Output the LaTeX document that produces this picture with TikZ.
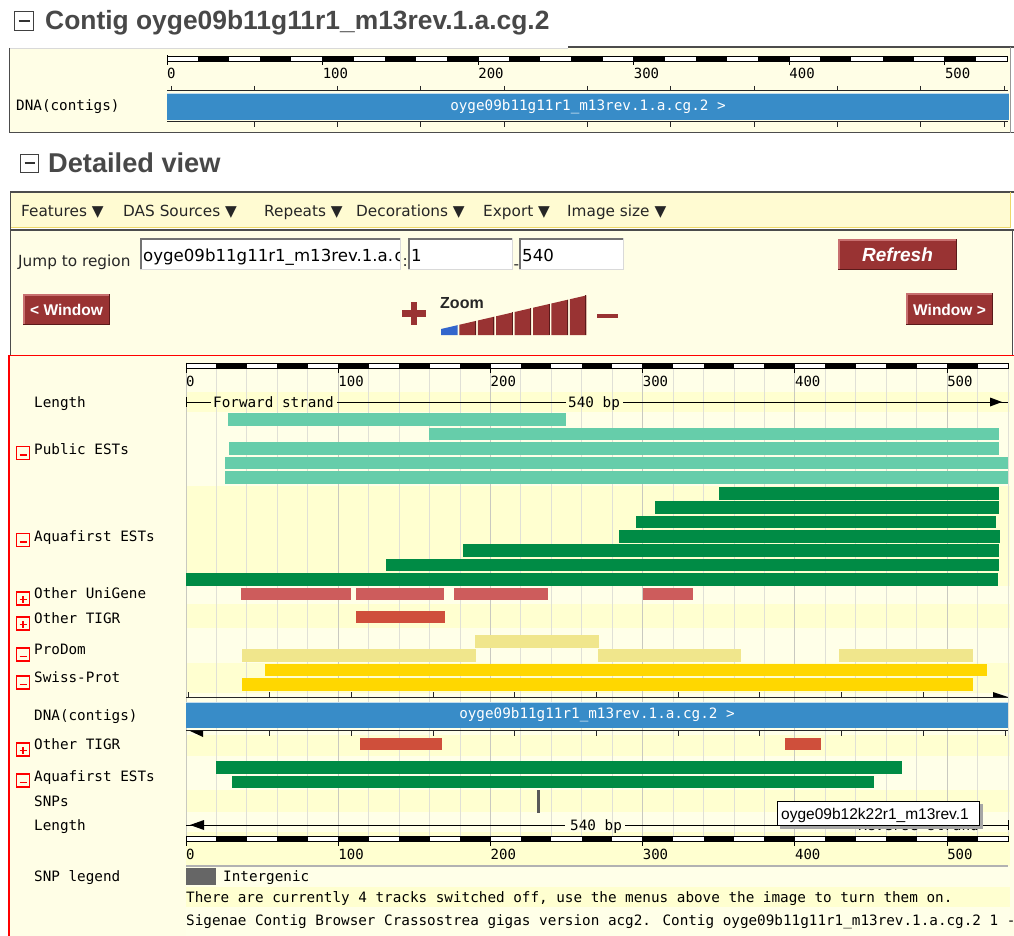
\documentclass[tikz,border=0pt]{standalone}
\usepackage{fontspec}
\setmainfont{Liberation Sans}
\newfontfamily\monof{DejaVu Sans Mono}
\newfontfamily\dvf{DejaVu Sans}
\definecolor{cream}{HTML}{FFFEE6}
\definecolor{bandA}{HTML}{FFFFD0}
\definecolor{bandB}{HTML}{FFFFE8}
\definecolor{gridc}{HTML}{E0E0D6}
\definecolor{gridd}{HTML}{C9C9C0}
\definecolor{hdr}{HTML}{484848}
\definecolor{contig}{HTML}{388CC8}
\definecolor{pubest}{HTML}{66CDAA}
\definecolor{aqua}{HTML}{008B45}
\definecolor{unig}{HTML}{CD5C5C}
\definecolor{tigr}{HTML}{CF4F3B}
\definecolor{prodom}{HTML}{F0E68C}
\definecolor{swiss}{HTML}{FFD700}
\definecolor{btn}{HTML}{993333}
\definecolor{btnlight}{HTML}{C87070}
\definecolor{btndark}{HTML}{5A1A1A}
\definecolor{zblue}{HTML}{3366CC}
\definecolor{toolbar}{HTML}{FFFBD2}
\definecolor{tbline}{HTML}{EED868}
\definecolor{snpc}{HTML}{666666}
\tikzset{
  mono/.style={font=\monof\fontsize{14.3}{16}\selectfont, inner sep=0pt, anchor=base west},
  rlab/.style={font=\monof\fontsize{14}{16}\selectfont, inner sep=0pt, anchor=base west},
  dnatext/.style={font=\monof\fontsize{14.3}{16}\selectfont, inner sep=0pt, text=white},
  ui/.style={font=\dvf\fontsize{15.3}{18}\selectfont, inner sep=0pt, anchor=base west, text=black!85},
  fieldtext/.style={font=\dvf\fontsize{16.6}{18}\selectfont, inner sep=0pt, anchor=base west, text=black},
  hdrtext/.style={font=\bfseries\fontsize{26.4}{30}\selectfont, text=hdr, inner sep=0pt, anchor=base west},
  btntext/.style={font=\bfseries\fontsize{15.5}{18}\selectfont, text=white, inner sep=0pt},
  tiptext/.style={font=\fontsize{15.5}{18}\selectfont, inner sep=0pt, anchor=base west},
}
\newcommand{\myruler}[3]{%
  \foreach \i in {0,...,26}{%
    \pgfmathsetmacro{\xa}{#1+\i*20*#3}%
    \pgfmathsetmacro{\xb}{#1+(\i+1)*20*#3}%
    \pgfmathtruncatemacro{\odd}{mod(\i,2)}%
    \ifnum\odd=1 \fill[black] (\xa,#2) rectangle (\xb,#2+4.5);\else\fill[white] (\xa,#2) rectangle (\xb,#2+4.5);\fi
  }
  \draw[black,line width=0.9] (#1,#2) rectangle (#1+540*#3,#2+4.5);
  \draw[black,line width=1] (#1,#2-1) -- (#1,#2+9);
  \foreach \k in {1,...,5}{\draw[black,line width=1] (#1+100*\k*#3,#2) -- (#1+100*\k*#3,#2+9);}
}
\newcommand{\minusicon}[2]{%
  \draw[red, line width=1.2] (#1,#2) rectangle (#1+13,#2+13);
  \draw[red, line width=1.7] (#1+3,#2+8.5) -- (#1+10,#2+8.5);
}
\newcommand{\plusicon}[2]{%
  \draw[red, line width=1.2] (#1,#2) rectangle (#1+13,#2+13);
  \draw[red, line width=1.7] (#1+3,#2+7.5) -- (#1+10,#2+7.5);
  \draw[red, line width=1.7] (#1+6.5,#2+4) -- (#1+6.5,#2+11);
}
\newcommand{\mybutton}[4]{%
  \fill[btn] (#1,#2) rectangle (#3,#4);
  \draw[btnlight, line width=1.5] (#1+0.75,#4) -- (#1+0.75,#2+0.75) -- (#3,#2+0.75);
  \draw[btndark, line width=1.5] (#1,#4-0.75) -- (#3-0.75,#4-0.75) -- (#3-0.75,#2);
}
\newcommand{\tbar}[4]{\fill[#1] (#2,#3) rectangle (#4,#3+12.7);}
\newcommand{\myfield}[4]{%
  \fill[white] (#1,#2) rectangle (#3,#4);
  \draw[black!55, line width=1.5] (#1+0.75,#4) -- (#1+0.75,#2+0.75) -- (#3,#2+0.75);
  \draw[black!15, line width=1] (#1,#4-0.5) -- (#3-0.5,#4-0.5) -- (#3-0.5,#2);
}
\begin{document}
\begin{tikzpicture}[x=1pt,y=-1pt]
\useasboundingbox (0,0) rectangle (1014,936);
\fill[white] (0,0) rectangle (1014,936);
\begin{scope}
\clip (0,0) rectangle (1014,936);

% ---------- Header 1 ----------
\draw[black!75, line width=1.3] (14.5,11.5) rectangle (33.5,30.5);
\draw[black!80, line width=2] (18.5,21) -- (29.5,21);
\node[hdrtext] (h1) at (45,29.5) {Contig oyge09b11g11r1\_m13rev.1.a.cg.2};

% ---------- Top box ----------
\fill[cream] (9,48) rectangle (1010,133);
\draw[black!15] (9,48.5) -- (568,48.5);
\draw[black!70, line width=1.3] (568,47) -- (1014,47);
\draw[black!70, line width=1] (9.5,48) -- (9.5,133) -- (1014,133);
\draw[black!40, line width=0.8] (1010,47) -- (1010,133);
\myruler{167}{56.5}{1.5556}
\foreach \k/\l in {0/0,1/100,2/200,3/300,4/400,5/500}{
  \node[rlab] (tr\k) at ({167+155.56*\k},78.5) {\l};
}
\draw[black!85, line width=1] (167,91) -- (1008,91);
\foreach \k in {0,...,10}{\draw[black!85, line width=1] ({171+83.3*\k},86) -- ({171+83.3*\k},91);}
\fill[contig] (167,93) rectangle (1009,120);
\draw[white!70!contig, line width=0.6] (167,93.3) -- (1009,93.3);
\node[dnatext] (c1) at (588,106.5) {oyge09b11g11r1\_m13rev.1.a.cg.2 >};
\draw[black!85, line width=1] (167,122) -- (1008,122);
\foreach \k in {1,...,10}{\draw[black!85, line width=1] ({171+83.3*\k},122) -- ({171+83.3*\k},127);}
\node[mono] (tdna) at (16,111) {DNA(contigs)};

% ---------- Header 2 ----------
\draw[black!75, line width=1.3] (20.5,154.5) rectangle (38.5,172.5);
\draw[black!80, line width=2] (24.5,163.5) -- (34.5,163.5);
\node[hdrtext, font=\bfseries\fontsize{27.2}{30}\selectfont] (h2) at (48,173) {Detailed view};

% ---------- Toolbar ----------
\fill[toolbar] (10,192) rectangle (1011,228);
\fill[cream] (10,230) rectangle (1012,355);
\draw[black!70, line width=1.3] (10,192) -- (1014,192);
\draw[tbline, line width=1.5] (10,227.5) -- (1011,227.5);
\draw[tbline, line width=1.2] (1010.5,192.5) -- (1010.5,228);
\draw[black!70, line width=1.2] (10,230) -- (1014,230);
\draw[black!70, line width=1.3] (10.5,192) -- (10.5,355);
\draw[black!70, line width=1] (1012,230) -- (1012,355);
\node[ui] (m1) at (21,216.5) {Features ▼};
\node[ui] (m2) at (123,216.5) {DAS Sources ▼};
\node[ui] (m3) at (264,216.5) {Repeats ▼};
\node[ui] (m4) at (356,216.5) {Decorations ▼};
\node[ui] (m5) at (483,216.5) {Export ▼};
\node[ui] (m6) at (567,216.5) {Image size ▼};

\node[ui] (jump) at (18,266) {Jump to region};
\myfield{140}{238}{401}{270}
\node[fieldtext] (f1) at (143,261.5) {oyge09b11g11r1\_m13rev.1.a.};
\begin{scope}
  \clip (390,239) rectangle (399,269);
  \node[fieldtext] (f1b) at (394.5,261.5) {c};
\end{scope}
\node[ui] (colon) at (402.5,266) {:};
\myfield{408}{238}{513}{270}
\node[fieldtext] (f2) at (411,261.5) {1};
\node[ui] (dash) at (513.5,269) {-};
\myfield{519}{238}{624}{270}
\node[fieldtext] (f3) at (522,261.5) {540};

\mybutton{838}{239}{957}{270}
\node[btntext, font=\bfseries\itshape\fontsize{19}{20}\selectfont] (refresh) at (897.5,255) {Refresh};
\mybutton{23}{294}{110}{325}
\node[btntext] (wl) at (66.5,310) {< Window};
\mybutton{906}{293}{993}{325}
\node[btntext] (wr) at (949.5,309.5) {Window >};

% zoom control
\fill[btn] (401.5,310) rectangle (426,316.5);
\fill[btn] (410.5,301.5) rectangle (417,324.5);
\node[font=\bfseries\fontsize{16}{18}\selectfont, inner sep=0pt, anchor=base west, text=black!85] (zoomt) at (440,308) {Zoom};
\foreach \i in {0,...,7}{
  \pgfmathsetmacro{\xl}{441+\i*18.4}
  \pgfmathsetmacro{\xr}{\xl+16.6}
  \pgfmathsetmacro{\yl}{329-(\xl-441)*0.231}
  \pgfmathsetmacro{\yr}{329-(\xr-441)*0.231}
  \ifnum\i=0
    \fill[zblue] (\xl,335) -- (\xl,\yl) -- (\xr,\yr) -- (\xr,335) -- cycle;
  \else
    \fill[btn] (\xl,335) -- (\xl,\yl) -- (\xr,\yr) -- (\xr,335) -- cycle;
    \draw[btndark, line width=1] (\xr-0.5,\yr) -- (\xr-0.5,335);
  \fi
}
\fill[btn] (597,313.5) rectangle (618,317.5);

% ---------- Track panel ----------
\fill[cream] (9,355) rectangle (1014,936);
% bands
\foreach \ya/\yb/\c in {370/392/bandB, 392/412/bandA, 412/486/bandB, 486/586/bandA,
   586/604/bandB, 604/628/bandA, 628/663/bandB, 663/693/bandA, 693/735/bandB,
   735/756/bandA, 756/790/bandB, 790/812/bandA, 812/832/bandB, 832/866/bandA,
   866/887/bandB, 887/907/bandA, 907/936/bandB}{
  \fill[\c] (186,\ya) rectangle (1010,\yb);
}
% grid
\foreach \k in {0,...,27}{
  \pgfmathtruncatemacro{\mm}{mod(\k,5)}
  \ifnum\mm=0
    \draw[gridd, line width=1] ({186+30.444*\k},368) -- ({186+30.444*\k},836);
  \else
    \draw[gridc, line width=1] ({186+30.444*\k},368) -- ({186+30.444*\k},836);
  \fi
}
\draw[red, line width=1.3] (9,936) -- (9,355.5) -- (1014,355.5);

% detailed ruler
\myruler{186}{363.5}{1.5222}
\foreach \k/\l in {0/0,1/100,2/200,3/300,4/400,5/500}{
  \node[rlab] (dr\k) at ({186+152.22*\k},386) {\l};
}

% forward length
\draw[black, line width=1] (186,397) -- (186,407);
\draw[black, line width=1] (186,402) -- (211,402);
\node[mono] (fwd) at (213,407) {Forward strand};
\draw[black, line width=1] (337,402) -- (566,402);
\node[mono] (len1) at (568,407) {540 bp};
\draw[black, line width=1] (623,402) -- (1008,402);
\fill[black] (990,397.5) -- (1002,402) -- (990,406.5) -- cycle;

% Public ESTs
\tbar{pubest}{228}{413}{566}
\tbar{pubest}{429}{427.5}{999}
\tbar{pubest}{229}{442}{999}
\tbar{pubest}{225}{456.5}{1008}
\tbar{pubest}{225}{471}{1008}
% Aquafirst ESTs
\tbar{aqua}{719}{487}{999}
\tbar{aqua}{654.5}{501.3}{999}
\tbar{aqua}{636}{515.6}{996}
\tbar{aqua}{618.5}{529.9}{1000}
\tbar{aqua}{463}{544.2}{999}
\tbar{aqua}{386}{558.5}{999}
\tbar{aqua}{186}{572.8}{997.5}
% Other UniGene
\tbar{unig}{241}{587.5}{351}
\tbar{unig}{356}{587.5}{444}
\tbar{unig}{453.5}{587.5}{548}
\tbar{unig}{643}{587.5}{693}
% Other TIGR
\tbar{tigr}{356}{610.7}{444.5}
% ProDom
\tbar{prodom}{475}{635}{599}
\tbar{prodom}{242}{649.3}{476}
\tbar{prodom}{598}{649.3}{741}
\tbar{prodom}{839}{649.3}{973}
% Swiss-Prot
\tbar{swiss}{265}{663.7}{987}
\tbar{swiss}{242}{678}{973}

% DNA contig (detailed)
\draw[black!85, line width=1] (186,697) -- (1008,697);
\foreach \k in {0,...,9}{\draw[black!85, line width=1] ({188+81.7*\k},692) -- ({188+81.7*\k},697);}
\fill[black] (993,692) -- (993,697) -- (1008,697) -- cycle;
\fill[contig] (186,702) rectangle (1008,727.5);
\draw[white!70!contig, line width=0.6] (186,702.3) -- (1008,702.3);
\node[dnatext] (c2) at (597,715) {oyge09b11g11r1\_m13rev.1.a.cg.2 >};
\draw[black!85, line width=1] (186,730.5) -- (1008,730.5);
\foreach \k in {1,...,10}{\draw[black!85, line width=1] ({188+81.7*\k},730.5) -- ({188+81.7*\k},735.5);}
\fill[black] (189,730.5) -- (203,730.5) -- (203,737) -- cycle;

% reverse Other TIGR
\tbar{tigr}{360}{737.5}{441.5}
\tbar{tigr}{785}{737.5}{821}
% reverse Aquafirst
\tbar{aqua}{216}{761.3}{901.5}
\tbar{aqua}{231.7}{775.7}{874}
% SNP
\fill[black!65] (537,790) rectangle (539.5,812.5);

% reverse length
\draw[black, line width=1] (186,825) -- (565,825);
\fill[black] (190,825) -- (204,820) -- (204,830) -- cycle;
\node[mono] (len2) at (570,830) {540 bp};
\draw[black, line width=1] (625,825) -- (855,825);
\node[mono] (rev) at (858,830) {Reverse strand};
\draw[black, line width=1] (980,825) -- (1008,825);
\draw[black, line width=1] (1008,820) -- (1008,830);

% tooltip
\fill[black!35] (780,804) rectangle (983,829);
\fill[white] (777,801) rectangle (980,826);
\draw[black, line width=1] (777.5,801.5) rectangle (979.5,825.5);
\node[tiptext] (tip) at (781,819) {oyge09b12k22r1\_m13rev.1};

% bottom ruler
\myruler{186}{836.5}{1.5222}
\foreach \k/\l in {0/0,1/100,2/200,3/300,4/400,5/500}{
  \node[rlab] (br\k) at ({186+152.22*\k},859.5) {\l};
}
\draw[black!30, line width=1.5] (186,866) -- (1008,866);

% legend and notes
\fill[snpc] (186,868) rectangle (216,885);
\node[mono] (interg) at (223,881) {Intergenic};
\node[mono] (note1) at (186,902) {There are currently 4 tracks switched off, use the menus above the image to turn them on.};
\node[mono] (note2) at (186,925) {Sigenae Contig Browser Crassostrea gigas version acg2. Contig oyge09b11g11r1\_m13rev.1.a.cg.2 1 -};

% track labels
\node[mono] (l1) at (34,407) {Length};
\minusicon{16.5}{446.5}\node[mono] (l2) at (34,454) {Public ESTs};
\minusicon{16.5}{533.5}\node[mono] (l3) at (34,541) {Aquafirst ESTs};
\plusicon{16.5}{592}\node[mono] (l4) at (34,598) {Other UniGene};
\plusicon{16.5}{617}\node[mono] (l5) at (34,623) {Other TIGR};
\minusicon{16.5}{648}\node[mono] (l6) at (34,654) {ProDom};
\minusicon{16.5}{676}\node[mono] (l7) at (34,682) {Swiss-Prot};
\node[mono] (l8) at (34,720) {DNA(contigs)};
\plusicon{16.5}{743}\node[mono] (l9) at (34,749) {Other TIGR};
\minusicon{16.5}{774}\node[mono] (l10) at (34,781) {Aquafirst ESTs};
\node[mono] (l11) at (34,806.5) {SNPs};
\node[mono] (l12) at (34,830) {Length};
\node[mono] (l13) at (34,881) {SNP legend};
\end{scope}
\end{tikzpicture}
\end{document}
